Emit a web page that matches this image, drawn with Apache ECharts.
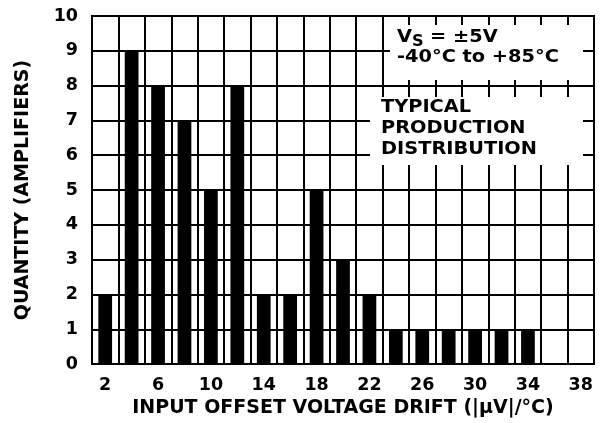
<!DOCTYPE html>
<html>
<head>
<meta charset="utf-8">
<script src="https://cdn.jsdelivr.net/npm/echarts@6/dist/echarts.min.js"></script>
<style>html,body{margin:0;padding:0;background:#fff;}#c{width:603px;height:423px;}</style>
</head>
<body>
<div id="c"></div>
<script>
var categories = ['2','4','6','8','10','12','14','16','18','20','22','24','26','28','30','32','34','36','38'];
var quantities = [2,9,8,7,5,8,2,2,5,3,2,1,1,1,1,1,1,0,0];
var yTicks = [0,1,2,3,4,5,6,7,8,9,10];
var xName = 'INPUT OFFSET VOLTAGE DRIFT (|µV|/°C)';
var yName = 'QUANTITY (AMPLIFIERS)';
var note1a = 'V', note1sub = 'S', note1b = '= ±5V', note1c = '-40°C to +85°C';
var note2 = ['TYPICAL', 'PRODUCTION', 'DISTRIBUTION'];

var FONT = 'DejaVu Sans';
var SX = 1.075;
function t(x, y, s, size) {
  return {type: 'text', z: 101, x: x, y: y, scaleX: SX,
    style: {text: s, x: 0, y: 0, align: 'left', verticalAlign: 'top',
      fontFamily: FONT, fontWeight: 'bold', fontSize: size || 18, fill: '#000'}};
}
var chart = echarts.init(document.getElementById('c'));
chart.setOption({
  animation: false,
  backgroundColor: '#fff',
  grid: {left: 92, right: 9, top: 16, bottom: 51, show: true, borderColor: '#000', borderWidth: 2, z: 5},
  xAxis: {
    type: 'category', data: categories, boundaryGap: true,
    name: xName, nameLocation: 'middle', nameGap: 33,
    nameTextStyle: {fontFamily: FONT, fontWeight: 'bold', fontSize: 19, color: '#000'},
    axisLine: {show: false}, axisTick: {show: false},
    axisLabel: {interval: 1, margin: 12, fontFamily: FONT, fontWeight: 'bold', fontSize: 17.5, color: '#000'},
    splitLine: {show: true, interval: 0, lineStyle: {color: '#000', width: 2}}
  },
  yAxis: {
    type: 'value', min: 0, max: 10, interval: 1,
    name: yName, nameLocation: 'middle', nameGap: 59, nameRotate: 90,
    nameTextStyle: {fontFamily: FONT, fontWeight: 'bold', fontSize: 19, color: '#000'},
    axisLine: {show: false}, axisTick: {show: false},
    axisLabel: {margin: 14, fontFamily: FONT, fontWeight: 'bold', fontSize: 17.5, color: '#000',
      formatter: function (v) { return yTicks.indexOf(v) >= 0 ? String(v) : ''; }},
    splitLine: {show: true, lineStyle: {color: '#000', width: 2}}
  },
  series: [{
    type: 'bar', data: quantities, barWidth: '52%',
    itemStyle: {color: '#000'}, z: 3
  }],
  graphic: [
    {type: 'rect', z: 100, shape: {x: 390, y: 25, width: 193, height: 55}, style: {fill: '#fff'}},
    {type: 'rect', z: 100, shape: {x: 370, y: 97, width: 213, height: 68}, style: {fill: '#fff'}},
    t(397, 28.5, note1a),
    t(412, 35, note1sub, 15),
    t(430, 28.5, note1b),
    t(397, 48.5, note1c),
    t(381, 98.5, note2[0]),
    t(381, 119.5, note2[1]),
    t(381, 140, note2[2])
  ]
});
</script>
</body>
</html>
